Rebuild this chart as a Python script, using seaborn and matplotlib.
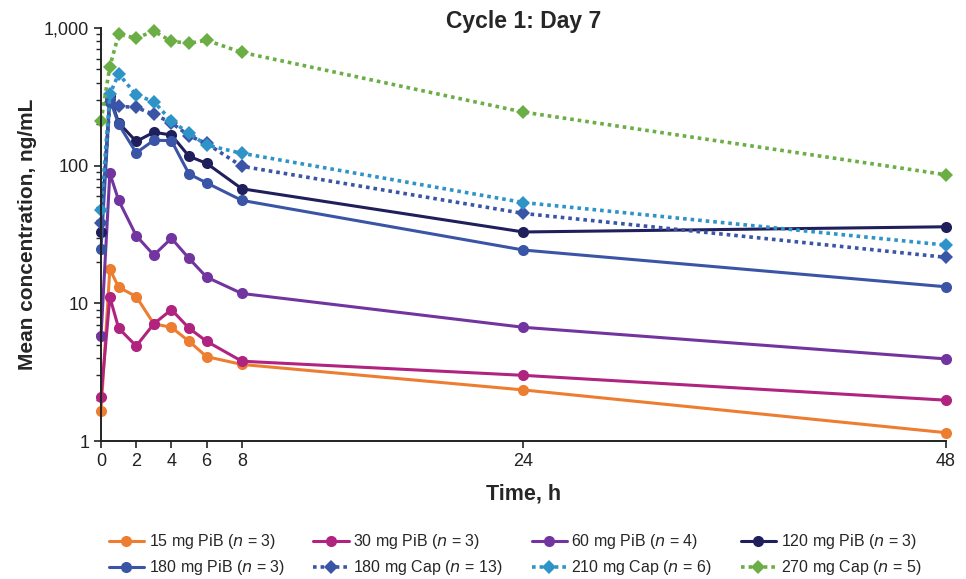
import matplotlib
matplotlib.use("Agg")
import matplotlib.pyplot as plt
from matplotlib.ticker import LogLocator, NullFormatter
import numpy as np
import pandas as pd
import seaborn as sns

# Time points (h)
time_h = [0, 0.5, 1, 2, 3, 4, 5, 6, 8, 24, 48]

# Mean concentrations (ng/mL)
pib_15 = [1.65, 17.7, 13.1, 11.2, 7.1, 6.7, 5.3, 4.1, 3.6, 2.35, 1.15]
pib_30 = [2.1, 11.1, 6.6, 4.9, 7.1, 9.0, 6.6, 5.3, 3.8, 3.0, 1.98]
pib_60 = [5.8, 88, 56, 31, 22.4, 29.7, 21.2, 15.5, 11.8, 6.7, 3.95]
pib_120 = [33, 320, 205, 150, 175, 167, 117, 104, 68, 33, 36]
pib_180 = [24.7, 305, 200, 124, 153, 152, 87, 75, 56, 24.4, 13.2]
cap_180 = [38.5, 285, 270, 265, 236, 205, 165, 145, 99, 45, 21.6]
cap_210 = [48, 330, 465, 326, 292, 211, 172, 141, 123, 54, 26.5]
cap_270 = [212, 525, 900, 845, 950, 800, 775, 815, 665, 245, 86]

labels = [
    "15 mg PiB ($n$ = 3)", "30 mg PiB ($n$ = 3)", "60 mg PiB ($n$ = 4)",
    "120 mg PiB ($n$ = 3)", "180 mg PiB ($n$ = 3)", "180 mg Cap ($n$ = 13)",
    "210 mg Cap ($n$ = 6)", "270 mg Cap ($n$ = 5)",
]
series = [pib_15, pib_30, pib_60, pib_120, pib_180, cap_180, cap_210, cap_270]
colors = ["#ED7D31", "#B0237E", "#7235A0", "#1F1F5C",
          "#3B55A6", "#3B55A6", "#2E93C6", "#6AAE45"]
markers = ["o", "o", "o", "o", "o", "D", "D", "D"]

sns.set_style("ticks")
plt.rcParams["font.family"] = ["Liberation Sans", "DejaVu Sans"]

fig = plt.figure(figsize=(9.66, 5.79), dpi=100)
ax = fig.add_axes([0.1046, 0.2383, 0.8744, 0.7133])

for vals, lab, col, mk in zip(series, labels, colors, markers):
    df = pd.DataFrame({"time": time_h, "conc": vals})
    dotted = mk == "D"
    sns.lineplot(
        data=df, x="time", y="conc", ax=ax, color=col, label=lab,
        marker=mk, markersize=7 if dotted else 8, markeredgewidth=0,
        linewidth=2.6 if dotted else 2.2,
        linestyle=(0, (1, 1.1)) if dotted else "-",
        clip_on=False,
    )

ax.set_yscale("log")
ax.set_ylim(1, 1000)
ax.set_xlim(0, 48)
ax.set_xticks([0, 2, 4, 6, 8, 24, 48])
ax.set_yticks([1, 10, 100, 1000])
ax.set_yticklabels(["1", "10", "100", "1,000"])
ax.yaxis.set_minor_locator(LogLocator(base=10, subs=np.arange(2, 10)))
ax.yaxis.set_minor_formatter(NullFormatter())
ax.tick_params(axis="both", which="major", labelsize=13, length=5, width=1.2,
               direction="out", color="#222222", labelcolor="#222222")
ax.tick_params(axis="y", which="minor", length=3.5, width=1.0)
for s in ["top", "right"]:
    ax.spines[s].set_visible(False)
for s in ["left", "bottom"]:
    ax.spines[s].set_linewidth(1.4)
    ax.spines[s].set_color("#222222")

ax.set_xlabel("Time, h", fontsize=15.5, fontweight="bold", labelpad=10)
ax.set_ylabel("Mean concentration, ng/mL", fontsize=15, fontweight="bold", labelpad=5)
ax.set_title("Cycle 1: Day 7", fontsize=16.5, fontweight="bold", pad=0, y=1.0)

# row-wise legend order (matplotlib fills columns first)
handles, labs = ax.get_legend_handles_labels()
order = [0, 4, 1, 5, 2, 6, 3, 7]
ax.legend([handles[i] for i in order], [labs[i] for i in order],
          loc="upper center", bbox_to_anchor=(0.49, -0.186),
          ncol=4, frameon=False, fontsize=11.5,
          handlelength=2.2, handletextpad=0.3, columnspacing=1.8, labelspacing=0.45)

fig.savefig("out.png", dpi=100)
